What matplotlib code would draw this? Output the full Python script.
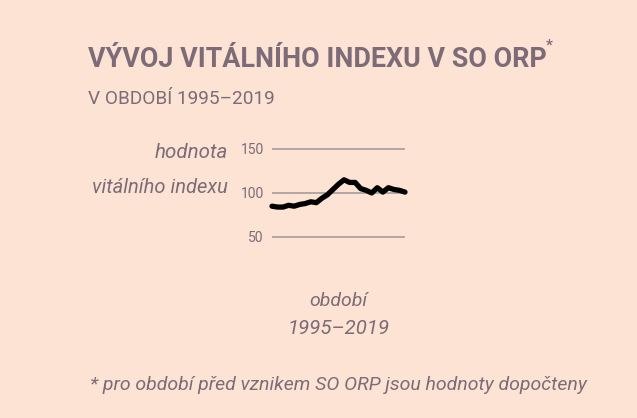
import matplotlib.pyplot as plt

years = list(range(1995, 2020))
index_values = [85, 84, 84, 86, 85, 87, 88, 90, 89, 94, 98, 104, 110, 115, 112,
                112, 105, 103, 100, 106, 101, 106, 104, 103, 101]
y_ticks = [50, 100, 150]

bg = '#FDE3D4'
txt = '#7D6B78'
font = 'Roboto'

fig = plt.figure(figsize=(6.37, 4.18), dpi=100, facecolor=bg)
W, H = 637, 418


def fit_text(x0, x1, ybase, s, size, ha='left', **kw):
    # place text and shrink/grow font so it spans x0..x1 pixels
    x = {'left': x0, 'right': x1, 'center': (x0 + x1) / 2}[ha]
    t = fig.text(x / W, 1 - ybase / H, s, family=font, fontsize=size, color=txt,
                 ha=ha, va='baseline', **kw)
    r = fig.canvas.get_renderer()
    w = t.get_window_extent(r).width
    t.set_fontsize(size * (x1 - x0) / w)
    return t


fit_text(88, 545, 67, 'VÝVOJ VITÁLNÍHO INDEXU V SO ORP', 20, fontweight='bold')
fig.text(546 / W, 1 - 50 / H, '*', family=font, fontsize=11, fontweight='bold',
         color=txt, ha='left', va='baseline')
fit_text(88, 275, 104, 'V OBDOBÍ 1995–2019', 15)

fit_text(155, 228, 158, 'hodnota', 15, ha='right', style='italic')
fit_text(92, 228, 193, 'vitálního indexu', 15, ha='right', style='italic')
fit_text(309, 367, 306, 'období', 15, ha='center', style='italic')
fit_text(288, 390, 334, '1995–2019', 15, ha='center', style='italic')
fit_text(90, 588, 390, '* pro období před vznikem SO ORP jsou hodnoty dopočteny', 15,
         style='italic')

ax = fig.add_axes([272 / W, 0.412, 133 / W, 0.2526])
ax.set_facecolor(bg)
ax.plot(years, index_values, color='black', linewidth=3.8, solid_capstyle='round',
        solid_joinstyle='round', clip_on=False, zorder=3)
ax.set_xlim(1995, 2019)
ax.set_ylim(40, 160)
ax.set_yticks(y_ticks)
ax.set_xticks([])
ax.grid(axis='y', color='#A39C9B', linewidth=1.2)
for s in ax.spines.values():
    s.set_visible(False)
ax.tick_params(axis='y', length=0, pad=6, labelsize=10, labelcolor=txt)
for lbl in ax.get_yticklabels():
    lbl.set_family(font)

fig.savefig('out.png', dpi=100, facecolor=bg)
